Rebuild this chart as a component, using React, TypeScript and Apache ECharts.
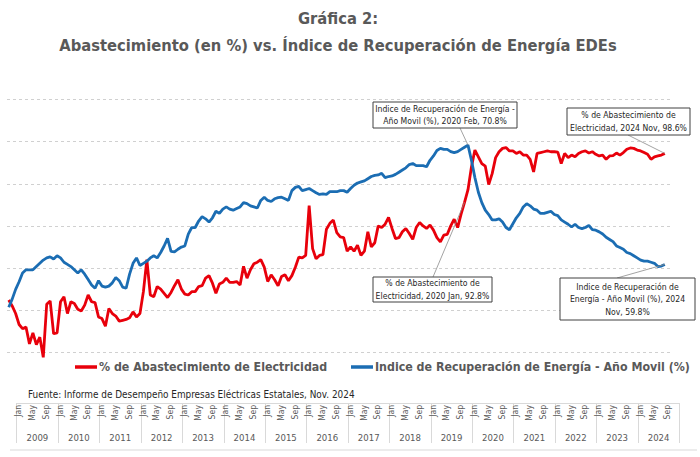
import React, { useEffect, useRef } from "react";
import * as echarts from "echarts";

const years = ["2009","2010","2011","2012","2013","2014","2015","2016","2017","2018","2019","2020","2021","2022","2023","2024"];
const monthNames = ["Jan","Feb","Mar","Apr","May","Jun","Jul","Aug","Sep","Oct","Nov","Dec"];
const shownMonths = ["Jan", "May", "Sep"];

const abastecimiento = [
  81.2, 80.5, 79.6, 78.3, 77.8, 78.0, 76.0, 77.3, 75.9, 76.8, 74.4, 80.7,
  81.1, 77.2, 77.3, 81.0, 81.6, 79.6, 81.0, 80.8, 80.1, 79.9, 80.6, 81.8,
  81.0, 80.9, 79.2, 79.0, 78.1, 80.2, 79.6, 79.3, 78.7, 78.8, 78.9, 79.1,
  79.8, 79.2, 79.6, 82.2, 86.0, 81.8, 81.6, 82.8, 82.5, 82.0, 81.5, 82.1,
  82.9, 83.6, 82.5, 81.9, 81.8, 82.2, 82.2, 82.8, 82.9, 83.8, 84.1, 83.2,
  82.0, 83.1, 83.3, 83.8, 83.3, 83.3, 83.4, 83.0, 85.2, 83.8, 84.8, 85.5,
  85.7, 86.0, 85.1, 83.4, 84.2, 83.6, 82.9, 84.0, 84.2, 83.5, 84.1, 85.1,
  86.3, 86.2, 86.5, 92.4, 87.3, 86.1, 86.5, 86.6, 89.6, 90.3, 90.7, 89.2,
  88.7, 88.6, 87.0, 87.5, 87.0, 87.7, 86.5, 87.0, 89.3, 87.5, 88.0, 90.0,
  89.8, 90.2, 91.0, 89.7, 88.5, 88.6, 89.3, 89.7, 89.1, 88.4, 89.8, 90.4,
  90.0, 89.7, 90.1, 89.5, 88.6, 88.1, 88.9, 89.0, 90.0, 90.8, 89.8, 91.4,
  92.8, 94.3, 97.0, 99.0, 98.2, 97.4, 97.1, 94.9, 96.2, 98.1, 98.8, 99.2,
  99.3, 98.9, 98.9, 98.6, 98.8, 98.4, 98.4, 97.9, 96.4, 98.6, 98.7, 98.8,
  98.9, 98.8, 98.8, 98.75, 97.4, 98.6, 98.1, 98.4, 98.2, 98.6, 98.8, 98.9,
  98.65, 98.8, 98.5, 98.3, 98.4, 97.9, 98.3, 98.35, 98.65, 98.4, 98.7, 99.1,
  99.25, 99.2, 99.0, 98.9, 98.7, 98.5, 97.9, 98.2, 98.3, 98.4, 98.6
];

const recuperacion = [
  55.85, 56.6, 57.5, 58.2, 59.0, 59.3, 59.3, 59.3, 59.6, 59.9, 60.2, 60.4,
  60.5, 60.3, 60.6, 60.4, 60.0, 59.8, 59.6, 59.3, 59.0, 59.3, 58.9, 58.4,
  57.9, 57.6, 58.3, 57.8, 57.7, 57.8, 58.1, 58.6, 58.3, 57.7, 57.6, 58.9,
  59.9, 60.4, 59.7, 59.9, 60.1, 60.4, 60.6, 60.4, 60.9, 61.5, 62.2, 61.0,
  60.95, 61.2, 61.4, 61.5, 62.6, 63.2, 63.2, 63.8, 64.2, 64.0, 63.7, 64.1,
  64.7, 64.5, 64.9, 65.1, 64.9, 64.8, 64.95, 65.1, 65.5, 65.4, 65.2, 65.1,
  65.0, 65.7, 66.0, 65.7, 65.6, 65.85, 65.95, 66.0, 65.85, 65.7, 66.6, 66.9,
  67.0, 66.6, 66.7, 66.8, 66.6, 66.4, 66.25, 66.3, 66.25, 66.5, 66.5, 66.5,
  66.6, 66.6, 66.45, 66.8, 67.1, 67.3, 67.4, 67.5, 67.7, 67.9, 68.0, 68.05,
  68.2, 67.8, 67.9, 67.95, 68.1, 68.3, 68.5, 68.7, 69.0, 69.1, 68.9, 68.9,
  68.9, 68.8, 69.4, 69.8, 70.3, 70.5, 70.4, 70.4, 70.2, 70.1, 70.2, 70.4,
  70.6, 70.8, 69.4, 67.8, 66.45, 65.5, 64.8, 64.4, 63.9, 63.9, 64.0, 63.7,
  63.2, 63.0, 63.55, 64.1, 64.5, 65.1, 65.4, 65.2, 64.9, 64.8, 64.5, 64.5,
  64.6, 64.7, 64.4, 64.3, 63.9, 63.7, 63.5, 63.25, 63.5, 63.2, 63.1, 63.2,
  63.4, 63.0, 62.95, 62.8, 62.6, 62.3, 62.1, 61.9, 61.5, 61.35, 61.2, 60.9,
  60.8, 60.6, 60.4, 60.2, 60.1, 60.1, 60.0, 59.9, 59.6, 59.65, 59.8
];

const seriesNames = [
  "% de Abastecimiento de Electricidad",
  "Indice de Recuperación de Energía - Año Movil (%)"
];
const titleLines = ["Gráfica 2:", "Abastecimiento (en %) vs. Índice de Recuperación de Energía EDEs"];
const sourceText = "Fuente: Informe de Desempeño Empresas Eléctricas Estatales, Nov. 2024";

const RED = "#e8000b";
const BLUE = "#1b6db3";
const GRAY = "#595959";
const NARROW = "'DejaVu Sans Condensed', 'Noto Sans', sans-serif";

export default function App() {
  const ref = useRef<HTMLDivElement>(null);

  useEffect(() => {
    const chart = echarts.init(ref.current!, null, { renderer: "svg" });
    const categories = years.flatMap((y) => monthNames.map((m) => `${m} ${y}`));

    const legendBase = {
      top: 361,
      padding: 0,
      icon: "rect",
      itemWidth: 22,
      itemHeight: 3.5,
      textStyle: { fontSize: 12.3, fontWeight: "bold", color: GRAY, fontFamily: NARROW, padding: [0, 0, 0, -3] }
    };

    chart.setOption({
      animation: false,
      backgroundColor: "#ffffff",
      grid: [
        { left: 7, width: 663, top: 99.5, height: 252.8 },
        { left: 16.7, width: 662.6, top: 402, height: 1 },
        { left: 16.7, width: 662.6, top: 403, height: 40 }
      ],
      legend: [
        { ...legendBase, data: [seriesNames[0]], left: 75 },
        { ...legendBase, data: [seriesNames[1]], left: 351 }
      ],
      xAxis: [
        { gridIndex: 0, type: "category", data: categories, boundaryGap: true, show: false },
        {
          gridIndex: 1, type: "category", data: categories, boundaryGap: true, position: "bottom",
          axisLine: { show: true, lineStyle: { color: "#d9d9d9", width: 1 } },
          axisTick: { show: false },
          axisLabel: {
            interval: (i: number, v: string) => shownMonths.includes(v.split(" ")[0]),
            formatter: (v: string) => v.split(" ")[0],
            rotate: 90, margin: 2, fontSize: 8.5, color: GRAY, fontFamily: NARROW
          }
        },
        {
          gridIndex: 2, type: "category", data: years, boundaryGap: true, position: "bottom",
          axisLine: { show: false },
          axisTick: { show: true, inside: true, length: 40, interval: 0, lineStyle: { color: "#d9d9d9" } },
          axisLabel: { inside: true, interval: 0, margin: 1, fontSize: 9.5, color: GRAY, fontFamily: NARROW }
        }
      ],
      yAxis: [
        {
          gridIndex: 0, type: "value", min: 75, max: 105, interval: 5,
          axisLabel: { show: false }, axisLine: { show: false }, axisTick: { show: false },
          splitLine: { show: true, lineStyle: { color: "#d0d0d0", type: [3, 3], width: 1 } }
        },
        { gridIndex: 0, type: "value", min: 51.7, max: 75, show: false, splitLine: { show: false } },
        { gridIndex: 1, type: "value", show: false },
        { gridIndex: 2, type: "value", show: false }
      ],
      series: [
        {
          name: seriesNames[0], type: "line", data: abastecimiento, xAxisIndex: 0, yAxisIndex: 0,
          showSymbol: false, symbol: "none", clip: false, color: RED,
          lineStyle: { color: RED, width: 2.8 }
        },
        {
          name: seriesNames[1], type: "line", data: recuperacion, xAxisIndex: 0, yAxisIndex: 1,
          showSymbol: false, symbol: "none", clip: false, color: BLUE,
          lineStyle: { color: BLUE, width: 2.8 }
        }
      ]
    });

    const fmt = (si: number, idx: number) => {
      const v = si === 0 ? abastecimiento[idx] : recuperacion[idx];
      return `${v.toFixed(1)}%`;
    };
    const catLabel = (idx: number) => {
      const [m, y] = categories[idx].split(" ");
      return `${y} ${m}`;
    };

    const notes = [
      { si: 1, idx: 133, lines: ["Indice de Recuperación de Energía -", `Año Movil (%), ${catLabel(133)}, ${fmt(1, 133)}`], box: [373, 102, 144, 26], anchor: [460, 128] },
      { si: 0, idx: 190, lines: ["% de Abastecimiento de", `Electricidad, ${catLabel(190)}, ${fmt(0, 190)}`], box: [567, 108, 123, 27], anchor: [628, 135] },
      { si: 0, idx: 132, lines: ["% de Abastecimiento de", `Electricidad, ${catLabel(132)}, ${fmt(0, 132)}`], box: [373, 277, 119, 25], anchor: [433, 277] },
      { si: 1, idx: 190, lines: ["Indice de Recuperación de", `Energía - Año Movil (%), ${catLabel(190).split(" ")[0]}`, `${catLabel(190).split(" ")[1]}, ${fmt(1, 190)}`], box: [560, 278, 135, 42], anchor: [617, 278] }
    ];

    const graphics: any[] = [];
    graphics.push({
      type: "text", x: 338, y: 18, z: 10,
      style: { text: titleLines[0], font: `bold 16.4px ${NARROW}`, fill: GRAY, align: "center", verticalAlign: "middle", textAlign: "center", textVerticalAlign: "middle" }
    });
    graphics.push({
      type: "text", x: 338, y: 45, z: 10,
      style: { text: titleLines[1], font: `bold 16.4px ${NARROW}`, fill: GRAY, align: "center", verticalAlign: "middle", textAlign: "center", textVerticalAlign: "middle" }
    });
    graphics.push({
      type: "text", x: 28, y: 394, z: 10,
      style: { text: sourceText, font: `9.9px ${NARROW}`, fill: "#262626", align: "left", verticalAlign: "middle", textAlign: "left", textVerticalAlign: "middle" }
    });
    graphics.push({
      type: "line", z: 5, shape: { x1: 10, y1: 450, x2: 697, y2: 450 }, style: { stroke: "#d9d9d9", lineWidth: 1 }
    });

    notes.forEach((n) => {
      const v = n.si === 0 ? abastecimiento[n.idx] : recuperacion[n.idx];
      const p = chart.convertToPixel({ seriesIndex: n.si }, [n.idx, v]) as number[];
      graphics.push({
        type: "line", z: 20,
        shape: { x1: n.anchor[0], y1: n.anchor[1], x2: p[0], y2: p[1] },
        style: { stroke: "#8c8c8c", lineWidth: 0.8 }
      });
      const [bx, by, bw, bh] = n.box;
      graphics.push({
        type: "rect", z: 21,
        shape: { x: bx, y: by, width: bw, height: bh },
        style: { fill: "#ffffff", stroke: "#404040", lineWidth: 1 }
      });
      graphics.push({
        type: "text", z: 22, x: bx + bw / 2, y: by + bh / 2,
        style: {
          text: n.lines.join("\n"), font: `8.6px ${NARROW}`, fill: "#262626", lineHeight: 12.5,
          align: "center", verticalAlign: "middle", textAlign: "center", textVerticalAlign: "middle"
        }
      });
    });

    chart.setOption({ graphic: graphics });

    return () => chart.dispose();
  }, []);

  return <div ref={ref} style={{ position: "absolute", left: 0, top: 0, width: 700, height: 457 }} />;
}
